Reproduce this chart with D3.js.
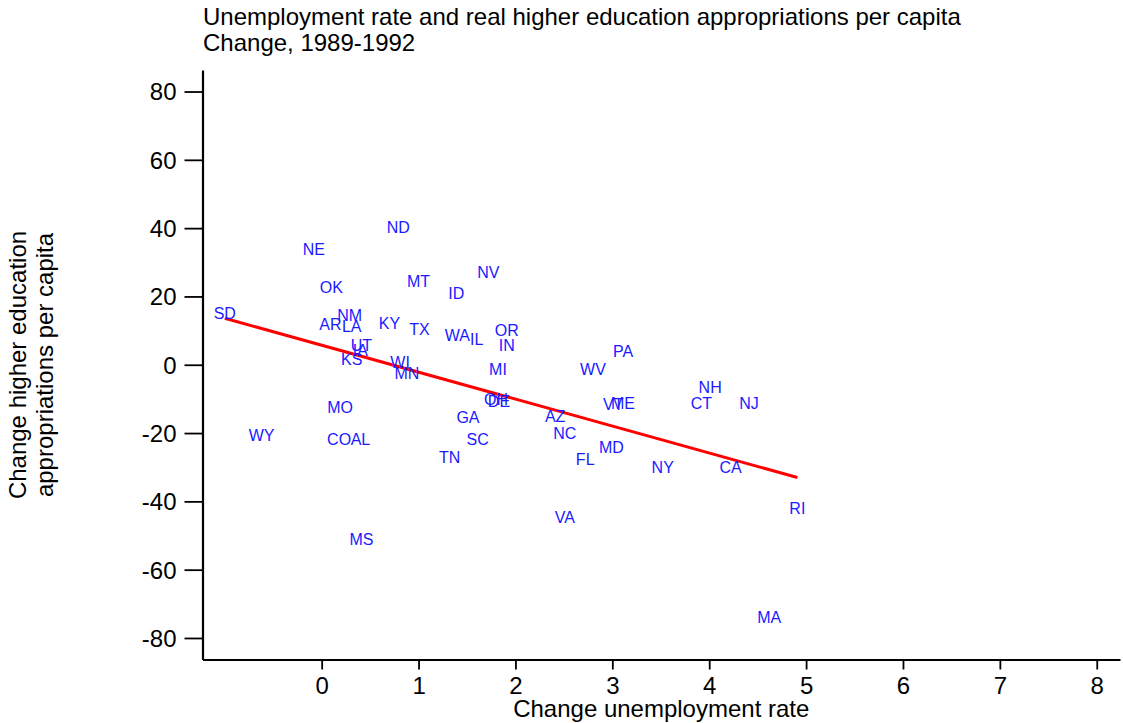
<!DOCTYPE html>
<html>
<head>
<meta charset="utf-8">
<script src="https://cdn.jsdelivr.net/npm/d3@7"></script>
<style>
  html, body { margin: 0; padding: 0; background: #fff; }
  svg { display: block; font-family: "Liberation Sans", Arial, sans-serif; }
</style>
</head>
<body>
<svg id="chart" width="1123" height="723"></svg>
<script>
// ---- data ----
const states = ["SD","ND","NE","OK","MT","ID","NV","NM","AR","LA","KY","TX","WA","IL","OR","IN","UT","IA","KS","WI","MN","MI","PA","WV","NH","CT","NJ","VT","ME","OH","DE","AZ","GA","NC","SC","MO","WY","CO","AL","TN","MD","FL","NY","CA","VA","RI","MS","MA"];
const unempChange = [-1.0,0.79,-0.08,0.10,1.0,1.39,1.72,0.29,0.09,0.31,0.70,1.01,1.40,1.60,1.91,1.91,0.41,0.40,0.31,0.81,0.88,1.82,3.11,2.80,4.01,3.92,4.41,3.01,3.11,1.80,1.83,2.41,1.51,2.51,1.61,0.19,-0.62,0.18,0.40,1.32,2.99,2.72,3.52,4.22,2.51,4.91,0.41,4.62];
const approChange = [15.1,40.1,33.8,22.6,24.5,21.0,26.9,14.5,11.7,11.1,12.1,10.4,8.6,7.4,10.2,5.6,5.7,4.2,1.5,0.6,-2.5,-1.5,4.0,-1.5,-6.7,-11.3,-11.3,-11.7,-11.3,-10.2,-10.7,-15.2,-15.5,-20.1,-21.9,-12.5,-20.7,-21.9,-21.9,-27.1,-24.1,-27.7,-30.1,-30.1,-44.8,-42.0,-51.2,-73.9];
// fitted (linear) line endpoints
const fitX = [-1.0, 4.91];
const fitY = [13.6, -33.0];
const xTicks = [0,1,2,3,4,5,6,7,8];
const yTicks = [-80,-60,-40,-20,0,20,40,60,80];
const titleLines = ["Unemployment rate and real higher education appropriations per capita","Change, 1989-1992"];
const xTitle = "Change unemployment rate";
const yTitleLines = ["Change higher education","appropriations per capita"];

const svg = d3.select("#chart");
const x = d3.scaleLinear().domain([-1.23, 8.24]).range([202.5, 1120]);
const y = d3.scaleLinear().domain([-86.3, 86.3]).range([659.5, 70]);
const FONT = "Liberation Sans, Arial, sans-serif";

// axes
const xAxis = svg.append("g").attr("transform", `translate(0,${y.range()[0]})`)
  .call(d3.axisBottom(x).tickValues(xTicks).tickFormat(d3.format("d")).tickSizeInner(10).tickSizeOuter(0).tickPadding(7));
const yAxis = svg.append("g").attr("transform", `translate(${x.range()[0]},0)`)
  .call(d3.axisLeft(y).tickValues(yTicks).tickFormat(d => d < 0 ? "-" + Math.abs(d) : d).tickSizeInner(18).tickSizeOuter(0).tickPadding(8));
[xAxis, yAxis].forEach(g => {
  g.selectAll("path.domain").attr("stroke", "#000").attr("stroke-width", 2.2);
  g.selectAll(".tick line").attr("stroke", "#000").attr("stroke-width", 1.8);
  g.selectAll(".tick text").attr("fill", "#000").style("font-size", "24px").style("font-family", FONT);
});
yAxis.selectAll(".tick text").attr("dy", "0.35em");

// fitted line
const fitLine = d3.line().x(d => x(d[0])).y(d => y(d[1]));
svg.append("path")
  .datum(fitX.map((v, i) => [v, fitY[i]]))
  .attr("d", fitLine)
  .attr("fill", "none")
  .attr("stroke", "#ff0000").attr("stroke-width", 3);

// state labels centred on points
svg.append("g").selectAll("text").data(states).join("text")
  .attr("x", (d,i) => x(unempChange[i]))
  .attr("y", (d,i) => y(approChange[i]))
  .attr("dy", "0.35em")
  .attr("text-anchor", "middle")
  .attr("fill", "#1a1aff")
  .style("font-size", "16px")
  .text(d => d);

// titles
svg.append("g").selectAll("text").data(titleLines).join("text")
  .attr("x", 203).attr("y", (d,i) => 17 + i*26).attr("dy", "0.35em")
  .style("font-size", "24px").attr("fill", "#000").text(d => d);
svg.append("text").attr("x", (x.range()[0]+x.range()[1])/2).attr("y", 709).attr("dy", "0.35em")
  .attr("text-anchor", "middle").style("font-size", "24px").text(xTitle);
svg.append("g").selectAll("text").data(yTitleLines).join("text")
  .attr("transform", (d,i) => `translate(${18 + i*27},365) rotate(-90)`)
  .attr("dy", "0.35em").attr("text-anchor", "middle")
  .style("font-size", "24px").text(d => d);
</script>
</body>
</html>
